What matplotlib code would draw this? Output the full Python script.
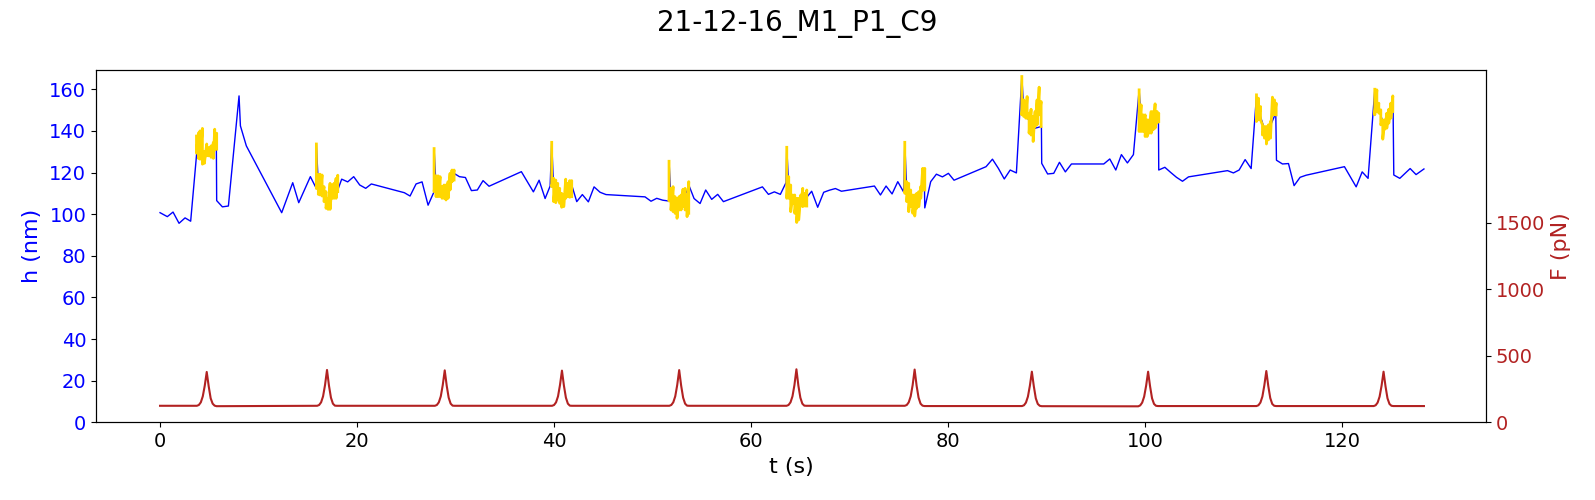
import matplotlib
matplotlib.use("Agg")
import matplotlib.pyplot as plt
import numpy as np

# height trace
t_h = [0.0, 0.74, 1.32, 1.93, 2.54, 3.11, 3.72, 5.72, 5.75, 6.33, 6.94, 8.02, 8.16, 8.76, 12.35, 13.47, 14.08,
       15.26, 15.87, 15.87, 16.07, 17.0, 18.04, 18.44, 19.05, 19.66, 20.27, 20.88, 21.45, 24.8, 25.38, 25.99, 26.6, 27.21,
       27.82, 27.82, 28.02, 29.0, 29.95, 30.39, 31.0, 31.61, 32.21, 32.79, 33.4, 36.68, 37.9, 38.48, 39.09, 39.6, 39.76,
       39.96, 40.8, 41.79, 42.3, 42.87, 43.48, 44.06, 44.67, 45.27, 49.23, 49.84, 50.42, 51.03, 51.64, 51.67, 51.87, 52.5, 53.74, 54.21,
       54.82, 55.39, 56.0, 56.61, 57.19, 61.15, 61.76, 62.36, 62.97, 63.55, 63.62, 63.82, 64.6, 65.71, 66.15, 66.76, 67.37,
       67.95, 68.56, 69.17, 72.52, 73.13, 73.7, 74.31, 74.89, 75.5, 75.6, 75.8, 76.6, 77.59, 77.63, 78.23, 78.81, 79.42,
       80.03, 80.6, 83.85, 84.5, 85.1, 85.7, 86.3, 86.93, 87.48, 87.68, 88.6, 89.47, 89.5, 90.1, 90.72, 91.3, 91.9, 92.52,
       95.8, 96.41, 97.02, 97.59, 98.2, 98.81, 99.39, 99.59, 100.4, 101.35, 101.38, 102.0, 102.6, 103.18, 103.79, 104.4,
       108.36, 108.96, 109.54, 110.15, 110.76, 111.3, 111.5, 112.3, 113.26, 113.33, 113.94, 114.55, 115.12, 115.73, 116.34,
       120.23, 121.42, 122.03, 122.63, 123.31, 123.52, 124.2, 125.17, 125.24, 125.85, 126.9, 127.5, 128.3]
h = [100.7, 98.8, 101.0, 95.6, 98.2, 96.6, 129.2, 130.9, 106.5, 103.5, 103.9, 156.8, 142.4, 132.8, 100.7, 115.1,
     105.5, 118.0, 112.3, 133.7, 114.0, 105.0, 111.6, 116.8, 115.5, 118.0, 114.0, 112.4, 114.5, 110.3, 108.7, 114.5, 115.5,
     104.3, 110.8, 131.5, 113.0, 110.0, 119.3, 118.0, 117.6, 111.3, 111.6, 116.1, 113.4, 120.4, 110.7, 116.3, 107.5, 113.5,
     134.5, 112.0, 107.0, 114.0, 106.0, 109.4, 105.9, 113.1, 110.5, 109.4, 108.3, 106.2, 107.6, 106.7, 106.3, 125.4, 107.0, 103.0, 113.2,
     107.5, 105.1, 111.6, 107.1, 109.5, 106.0, 113.1, 109.5, 110.7, 109.5, 115.2, 132.1, 113.0, 102.0, 108.4, 111.0, 103.3,
     110.5, 111.5, 112.3, 111.0, 113.5, 109.2, 113.5, 109.7, 115.6, 110.5, 134.5, 111.0, 104.0, 114.8, 103.0, 115.6, 119.2,
     117.9, 119.6, 116.3, 122.8, 126.4, 122.0, 116.9, 121.2, 119.8, 166.1, 150.0, 141.0, 142.1, 124.4, 119.3, 119.6, 124.9,
     120.3, 124.1, 124.1, 126.5, 121.2, 128.6, 124.6, 128.6, 159.7, 146.0, 142.0, 145.3, 121.2, 122.5, 120.0, 117.7, 115.8,
     117.9, 120.9, 119.8, 121.2, 126.2, 121.9, 156.8, 150.0, 138.0, 148.5, 125.9, 124.1, 124.3, 113.7, 117.7, 118.7, 122.8,
     113.1, 120.3, 117.2, 159.7, 154.0, 143.0, 150.1, 118.8, 117.2, 121.9, 119.0, 121.7]

# noisy parts of the height trace, upper and lower edge per compression
burst_t = [
    [3.70, 3.90, 4.06, 4.30, 4.50, 4.74, 4.94, 5.18, 5.41, 5.55, 5.75],
    [15.87, 16.07, 16.24, 16.45, 16.65, 16.85, 17.06, 17.26, 17.46, 17.66, 17.87, 18.04],
    [27.82, 28.02, 28.22, 28.43, 28.63, 28.83, 29.03, 29.24, 29.44, 29.64, 29.85],
    [39.76, 39.96, 40.17, 40.37, 40.57, 40.77, 40.98, 41.18, 41.38, 41.59, 41.79],
    [51.67, 51.87, 52.08, 52.28, 52.48, 52.69, 52.89, 53.09, 53.3, 53.5, 53.67],
    [63.62, 63.82, 64.02, 64.23, 64.43, 64.63, 64.83, 65.04, 65.24, 65.44, 65.65],
    [75.6, 75.8, 76.0, 76.2, 76.41, 76.61, 76.81, 77.02, 77.22, 77.42, 77.63],
    [87.48, 87.68, 87.88, 88.02, 88.22, 88.42, 88.63, 88.83, 89.03, 89.24, 89.44],
    [99.39, 99.59, 99.79, 100.0, 100.2, 100.4, 100.61, 100.81, 101.01, 101.21, 101.38],
    [111.3, 111.5, 111.71, 111.91, 112.11, 112.31, 112.52, 112.72, 112.92, 113.13, 113.3],
    [123.31, 123.52, 123.72, 123.92, 124.12, 124.33, 124.53, 124.73, 124.94, 125.14],
]
burst_hi = [
    [137.5, 139.0, 140.0, 141.2, 130.0, 133.7, 132.0, 132.8, 134.4, 140.8, 138.9],
    [133.7, 119.0, 119.2, 118.8, 113.2, 110.8, 107.6, 114.8, 114.0, 114.8, 117.2, 118.7],
    [131.5, 118.4, 118.4, 118.0, 113.2, 114.0, 114.0, 115.6, 119.6, 121.2, 121.2],
    [134.5, 117.2, 116.4, 114.8, 112.4, 110.0, 109.2, 116.8, 114.8, 116.1, 116.1],
    [125.4, 112.4, 113.2, 108.4, 107.6, 108.4, 109.2, 112.0, 112.4, 109.2, 115.6],
    [132.1, 118.0, 114.0, 109.2, 109.2, 107.6, 107.6, 109.2, 112.4, 110.0, 111.6],
    [134.5, 115.6, 114.8, 111.6, 109.2, 109.2, 110.0, 110.8, 113.2, 122.0, 122.0],
    [166.1, 154.9, 152.5, 156.5, 148.5, 150.4, 146.9, 149.3, 154.9, 161.0, 154.1],
    [159.7, 152.5, 147.7, 147.7, 145.3, 145.3, 149.3, 149.3, 153.0, 149.3, 148.5],
    [157.3, 155.7, 151.7, 142.9, 142.1, 142.1, 142.9, 144.5, 156.2, 154.9, 153.3],
    [160.0, 159.7, 153.3, 150.1, 145.3, 145.3, 148.5, 150.4, 153.3, 156.8],
]
burst_lo = [
    [129.3, 126.8, 126.4, 124.0, 124.4, 128.0, 128.0, 127.3, 126.8, 130.8, 131.2],
    [112.3, 109.5, 109.2, 108.7, 106.0, 102.8, 102.3, 102.3, 107.6, 107.6, 107.6, 110.8],
    [110.8, 108.4, 108.4, 108.4, 107.6, 107.6, 106.8, 107.6, 111.6, 115.6, 116.4],
    [113.2, 106.0, 105.5, 106.8, 105.2, 103.3, 103.6, 107.6, 108.4, 108.1, 108.4],
    [106.3, 102.0, 101.2, 100.4, 98.0, 102.0, 102.0, 103.6, 102.0, 98.8, 100.4],
    [107.6, 107.6, 101.2, 105.2, 100.4, 96.0, 97.2, 103.9, 103.6, 103.9, 103.9],
    [110.0, 106.0, 101.2, 103.6, 100.4, 99.1, 102.8, 103.6, 107.6, 111.6, 111.6],
    [147.7, 146.9, 146.1, 146.1, 138.9, 138.0, 134.9, 142.1, 142.9, 147.7, 142.1],
    [139.7, 139.7, 139.7, 137.3, 137.3, 138.9, 138.9, 140.5, 141.3, 143.7, 144.5],
    [144.5, 145.3, 145.3, 138.0, 136.5, 133.7, 135.7, 136.5, 147.7, 147.7, 147.7],
    [147.7, 149.3, 148.5, 142.9, 136.0, 140.8, 141.3, 143.7, 146.1, 149.3],
]

# force trace
t_f = [0.0, 3.74, 3.94, 4.14, 4.34, 4.54, 4.74, 4.94, 5.14, 5.34, 5.54, 5.74,
       15.95, 16.15, 16.35, 16.55, 16.75, 16.95, 17.15, 17.35, 17.55, 17.75, 17.95,
       27.9, 28.1, 28.3, 28.5, 28.7, 28.9, 29.1, 29.3, 29.5, 29.7, 29.9,
       39.8, 40.0, 40.2, 40.4, 40.6, 40.8, 41.0, 41.2, 41.4, 41.6, 41.8,
       51.7, 51.9, 52.1, 52.3, 52.5, 52.7, 52.9, 53.1, 53.3, 53.5, 53.7,
       63.6, 63.8, 64.0, 64.2, 64.4, 64.6, 64.8, 65.0, 65.2, 65.4, 65.6,
       75.6, 75.8, 76.0, 76.2, 76.4, 76.6, 76.8, 77.0, 77.2, 77.4, 77.6,
       87.5, 87.7, 87.9, 88.1, 88.3, 88.5, 88.7, 88.9, 89.1, 89.3, 89.5,
       99.3, 99.5, 99.7, 99.9, 100.1, 100.3, 100.5, 100.7, 100.9, 101.1, 101.3,
       111.3, 111.5, 111.7, 111.9, 112.1, 112.3, 112.5, 112.7, 112.9, 113.1, 113.3,
       123.2, 123.4, 123.6, 123.8, 124.0, 124.2, 124.4, 124.6, 124.8, 125.0, 125.2, 128.3]
f = [124, 124, 130, 150, 195, 275, 378, 270, 180, 140, 125, 121,
     124, 130, 150, 195, 280, 393, 275, 185, 140, 125, 124,
     124, 130, 150, 195, 280, 390, 275, 185, 140, 125, 124,
     124, 130, 150, 195, 280, 388, 275, 185, 140, 125, 124,
     124, 130, 150, 195, 280, 392, 275, 185, 140, 125, 124,
     124, 130, 150, 195, 280, 398, 275, 185, 140, 125, 124,
     124, 130, 150, 195, 280, 396, 275, 185, 140, 125, 122,
     122, 128, 148, 193, 275, 380, 270, 180, 138, 124, 121,
     120, 127, 148, 193, 275, 380, 270, 180, 138, 124, 122,
     122, 128, 148, 193, 278, 385, 272, 182, 138, 124, 122,
     122, 128, 148, 193, 275, 380, 270, 180, 138, 124, 122, 122]

fig = plt.figure(figsize=(15.95, 5), dpi=100)
ax = fig.add_axes([96 / 1595, 77.7 / 500, 1390 / 1595, 352 / 500])
ax.plot(t_h, h, color="blue", lw=1)
for bt, hi, lo in zip(burst_t, burst_hi, burst_lo):
    ax.plot(np.repeat(bt, 2), np.column_stack([hi, lo]).ravel(), color="gold", lw=2)
ax.set_xlim(-6.5, 134.6)
ax.set_ylim(0, 169.1)
ax.set_xlabel("t (s)", fontsize=16)
ax.set_ylabel("h (nm)", color="blue", fontsize=16, labelpad=5)
ax.tick_params(axis="x", labelsize=14)
ax.tick_params(axis="y", labelsize=14, labelcolor="blue")

ax2 = ax.twinx()
ax2.plot(t_f, f, color="firebrick", lw=1.5)
ax2.set_ylim(0, 2643)
ax2.set_yticks([0, 500, 1000, 1500])
ax2.set_ylabel("F (pN)", color="firebrick", fontsize=16)
ax2.yaxis.set_label_coords(1.0465, 0.5)
ax2.tick_params(axis="y", labelsize=14, labelcolor="firebrick")

fig.suptitle("21-12-16_M1_P1_C9", fontsize=20, y=0.98)
fig.savefig("out.png")
